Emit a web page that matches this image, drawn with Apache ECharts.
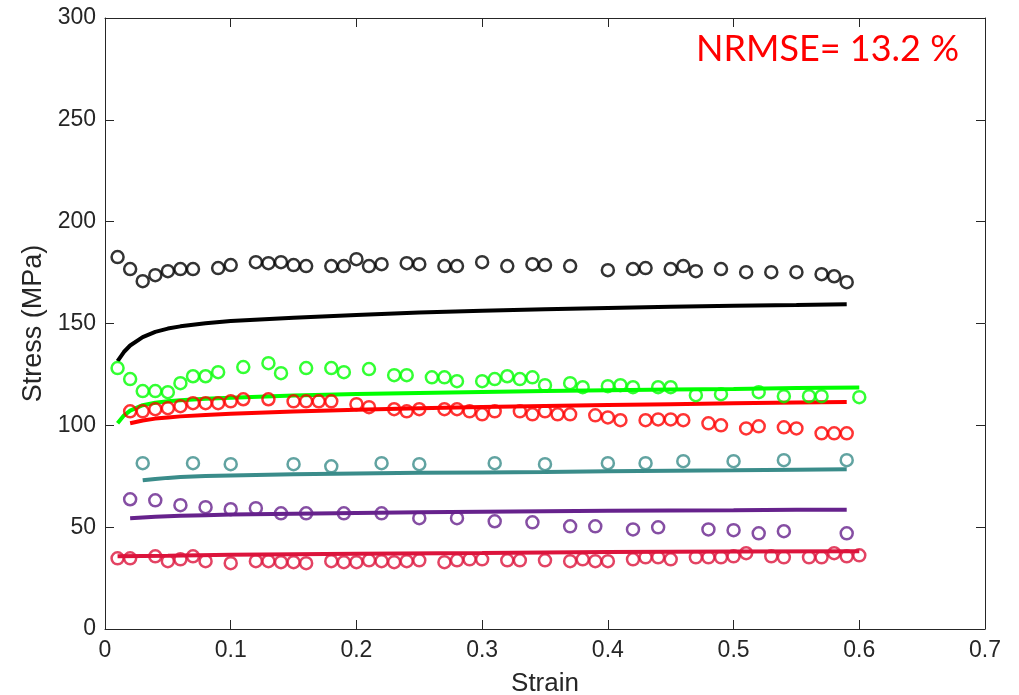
<!DOCTYPE html>
<html>
<head>
<meta charset="utf-8">
<script src="https://cdn.jsdelivr.net/npm/echarts@6/dist/echarts.min.js"></script>
<style>
html,body{margin:0;padding:0;background:#fff;}
#chart{width:1019px;height:695px;}
</style>
</head>
<body>
<div id="chart"></div>
<script>
// ---- tick values ----
const xTicks = [0, 0.1, 0.2, 0.3, 0.4, 0.5, 0.6, 0.7];
const yTicks = [0, 50, 100, 150, 200, 250, 300];

// ---- experimental points (circles) ----
const blackExpX = [0.01,0.02,0.03,0.04,0.05,0.06,0.07,0.09,0.10,0.12,0.13,0.14,0.15,0.16,0.18,0.19,0.20,0.21,0.22,0.24,0.25,0.27,0.28,0.30,0.32,0.34,0.35,0.37,0.40,0.42,0.43,0.45,0.46,0.47,0.49,0.51,0.53,0.55,0.57,0.58,0.59];
const blackExpY = [182.6,176.7,170.8,173.7,175.7,176.7,176.7,177.2,178.7,180.1,179.6,180.1,178.7,178.2,178.2,178.2,181.6,178.2,179.1,179.6,179.1,178.2,178.2,180.1,178.2,179.1,178.7,178.2,176.2,176.7,177.2,176.7,178.2,175.7,176.7,175.2,175.2,175.2,174.2,173.2,170.3];

const greenExpX = [0.01,0.02,0.03,0.04,0.05,0.06,0.07,0.08,0.09,0.11,0.13,0.14,0.16,0.18,0.19,0.21,0.23,0.24,0.26,0.27,0.28,0.30,0.31,0.32,0.33,0.34,0.35,0.37,0.38,0.40,0.41,0.42,0.44,0.45,0.47,0.49,0.52,0.54,0.56,0.57,0.60];
const greenExpY = [128.1,122.7,116.8,116.8,116.3,120.7,124.1,124.1,126.1,128.6,130.5,125.6,128.1,128.1,126.1,127.6,124.6,124.6,123.6,123.6,121.7,121.7,122.7,124.1,122.7,123.6,119.7,120.7,118.7,119.2,119.7,118.7,118.7,118.7,114.8,115.3,116.3,114.3,114.3,114.3,113.8];

const redExpX = [0.02,0.03,0.04,0.05,0.06,0.07,0.08,0.09,0.10,0.11,0.13,0.15,0.16,0.17,0.18,0.20,0.21,0.23,0.24,0.25,0.27,0.28,0.29,0.30,0.31,0.33,0.34,0.35,0.36,0.37,0.39,0.40,0.41,0.43,0.44,0.45,0.46,0.48,0.49,0.51,0.52,0.54,0.55,0.57,0.58,0.59];
const redExpY = [106.9,106.9,107.9,108.4,109.4,110.9,110.9,110.9,111.8,112.8,112.8,111.8,111.8,111.8,111.8,110.4,108.9,107.9,106.9,107.9,107.9,107.9,106.9,105.4,106.9,106.9,105.4,106.9,105.4,105.4,104.9,103.9,102.5,102.5,102.9,102.9,102.5,101.0,100.0,98.5,99.5,99.0,98.5,96.1,96.1,96.1];

const tealExpX = [0.03,0.07,0.10,0.15,0.18,0.22,0.25,0.31,0.35,0.40,0.43,0.46,0.50,0.54,0.59];
const tealExpY = [81.4,81.4,80.9,80.9,79.9,81.4,80.9,81.4,80.9,81.4,81.4,82.4,82.4,82.9,82.9];

const purpleExpX = [0.02,0.04,0.06,0.08,0.10,0.12,0.14,0.16,0.19,0.22,0.25,0.28,0.31,0.34,0.37,0.39,0.42,0.44,0.48,0.50,0.52,0.54,0.59];
const purpleExpY = [63.7,63.2,60.8,59.8,58.8,59.3,56.8,56.8,56.8,56.8,54.4,54.4,52.9,52.4,50.4,50.4,48.9,49.9,48.9,48.5,47.0,48.0,47.0];

const crimsonExpX = [0.01,0.02,0.04,0.05,0.06,0.07,0.08,0.10,0.12,0.13,0.14,0.15,0.16,0.18,0.19,0.20,0.21,0.22,0.23,0.24,0.25,0.27,0.28,0.29,0.30,0.32,0.33,0.35,0.37,0.38,0.39,0.40,0.42,0.43,0.44,0.45,0.47,0.48,0.49,0.50,0.51,0.53,0.54,0.56,0.57,0.58,0.59,0.60];
const crimsonExpY = [34.7,34.7,35.7,33.3,34.2,35.7,33.3,32.3,33.3,33.3,32.8,32.8,32.3,33.3,32.8,32.8,33.7,33.3,32.8,33.3,33.7,32.8,33.7,34.2,34.2,33.7,33.7,33.7,33.3,34.2,33.3,33.3,34.2,35.2,35.2,34.2,35.2,35.2,35.2,35.7,37.2,35.7,35.2,35.2,35.2,37.2,35.7,36.2];

// ---- model curves (lines) ----
const blackFitX = [0.01,0.015,0.02,0.03,0.04,0.05,0.06,0.08,0.10,0.15,0.20,0.25,0.30,0.35,0.40,0.45,0.50,0.55,0.59];
const blackFitY = [131.5,136.0,139.2,143.3,145.9,147.5,148.6,150.1,151.2,152.8,154.2,155.4,156.3,157.0,157.6,158.2,158.7,159.1,159.5];

const greenFitX = [0.01,0.015,0.02,0.03,0.04,0.05,0.06,0.08,0.10,0.15,0.20,0.25,0.30,0.35,0.40,0.45,0.50,0.55,0.60];
const greenFitY = [101.0,104.8,107.2,109.9,111.1,111.8,112.3,113.0,113.5,114.6,115.4,115.9,116.4,116.8,117.2,117.6,117.9,118.3,118.6];

const redFitX = [0.02,0.03,0.04,0.05,0.06,0.08,0.10,0.15,0.20,0.25,0.30,0.35,0.40,0.45,0.50,0.55,0.59];
const redFitY = [101.0,102.4,103.3,103.9,104.4,105.1,105.7,106.8,107.7,108.4,109.0,109.5,110.0,110.4,110.8,111.2,111.5];

const tealFitX = [0.03,0.04,0.05,0.06,0.08,0.10,0.15,0.20,0.25,0.30,0.35,0.40,0.45,0.50,0.55,0.59];
const tealFitY = [73.0,73.7,74.2,74.6,75.1,75.4,76.0,76.4,76.7,76.9,77.1,77.4,77.7,77.9,78.2,78.4];

const purpleFitX = [0.02,0.03,0.04,0.06,0.08,0.10,0.15,0.20,0.25,0.30,0.35,0.40,0.45,0.50,0.55,0.59];
const purpleFitY = [54.4,54.8,55.1,55.6,55.9,56.2,56.6,57.0,57.3,57.6,57.8,58.0,58.2,58.3,58.5,58.6];

const crimsonFitX = [0.01,0.05,0.10,0.20,0.30,0.40,0.50,0.60];
const crimsonFitY = [35.7,36.0,36.4,36.9,37.3,37.8,38.0,38.2];

const nrmseText = 'NRMSE= 13.2 %';

// ---- styling ----
const COLORS = {
  black: '#000000',
  green: '#00FF00',
  red: '#FF0000',
  teal: '#3A8C8A',
  purple: '#66228C',
  crimson: '#DC143C'
};
const AXIS_COLOR = '#262626';
const FONT = '"Liberation Sans", Arial, Helvetica, sans-serif';

function pairs(xs, ys) { return xs.map((x, i) => [x, ys[i]]); }

function lineSeries(name, xs, ys, color) {
  return {
    name, type: 'line', data: pairs(xs, ys), showSymbol: false, symbol: 'none',
    smooth: false, lineStyle: { color, width: 4 }, z: 2, silent: true, animation: false
  };
}
function scatterSeries(name, xs, ys, color) {
  return {
    name, type: 'scatter', data: pairs(xs, ys), symbol: 'circle', symbolSize: 12,
    itemStyle: { color: 'rgba(0,0,0,0)', borderColor: color, borderWidth: 2.5 },
    z: 3, silent: true, animation: false
  };
}

const chart = echarts.init(document.getElementById('chart'), null, { renderer: 'canvas' });

const commonAxisLine = { show: true, onZero: false, lineStyle: { color: AXIS_COLOR, width: 1 } };
const commonTick = { show: true, inside: true, length: 9, lineStyle: { color: AXIS_COLOR, width: 1 } };

const option = {
  backgroundColor: '#ffffff',
  animation: false,
  grid: { left: 105, right: 34, top: 18, bottom: 66, containLabel: false, outerBoundsMode: 'none' },
  xAxis: [
    {
      type: 'value', min: xTicks[0], max: xTicks[xTicks.length - 1], interval: 0.1,
      position: 'bottom',
      name: 'Strain', nameLocation: 'middle', nameGap: 42,
      nameTextStyle: { fontFamily: FONT, fontSize: 26, color: AXIS_COLOR },
      axisLine: commonAxisLine, axisTick: commonTick,
      axisLabel: { fontFamily: FONT, fontSize: 23, color: AXIS_COLOR, margin: 10,
        formatter: v => String(Math.round(v * 10) / 10) },
      splitLine: { show: false }
    },
    {
      type: 'value', min: xTicks[0], max: xTicks[xTicks.length - 1], interval: 0.1,
      position: 'top',
      axisLine: commonAxisLine, axisTick: commonTick,
      axisLabel: { show: false }, splitLine: { show: false }
    }
  ],
  yAxis: [
    {
      type: 'value', min: yTicks[0], max: yTicks[yTicks.length - 1], interval: 50,
      position: 'left',
      name: 'Stress (MPa)', nameLocation: 'middle', nameGap: 55,
      nameTextStyle: { fontFamily: FONT, fontSize: 27, color: AXIS_COLOR },
      axisLine: commonAxisLine, axisTick: commonTick,
      axisLabel: { fontFamily: FONT, fontSize: 23, color: AXIS_COLOR, margin: 9 },
      splitLine: { show: false }
    },
    {
      type: 'value', min: yTicks[0], max: yTicks[yTicks.length - 1], interval: 50,
      position: 'right',
      axisLine: commonAxisLine, axisTick: commonTick,
      axisLabel: { show: false }, splitLine: { show: false }
    }
  ],
  graphic: [
    {
      type: 'text', right: 60, top: 31,
      style: { text: nrmseText, fill: '#FF0000', font: '36px Lato, "Open Sans", sans-serif' },
      z: 10
    }
  ],
  series: [
    lineSeries('blackFit', blackFitX, blackFitY, COLORS.black),
    lineSeries('greenFit', greenFitX, greenFitY, COLORS.green),
    lineSeries('redFit', redFitX, redFitY, COLORS.red),
    lineSeries('tealFit', tealFitX, tealFitY, COLORS.teal),
    lineSeries('purpleFit', purpleFitX, purpleFitY, COLORS.purple),
    lineSeries('crimsonFit', crimsonFitX, crimsonFitY, COLORS.crimson),
    scatterSeries('blackExp', blackExpX, blackExpY, COLORS.black),
    scatterSeries('greenExp', greenExpX, greenExpY, COLORS.green),
    scatterSeries('redExp', redExpX, redExpY, COLORS.red),
    scatterSeries('tealExp', tealExpX, tealExpY, COLORS.teal),
    scatterSeries('purpleExp', purpleExpX, purpleExpY, COLORS.purple),
    scatterSeries('crimsonExp', crimsonExpX, crimsonExpY, COLORS.crimson)
  ]
};
chart.setOption(option);
</script>
</body>
</html>
